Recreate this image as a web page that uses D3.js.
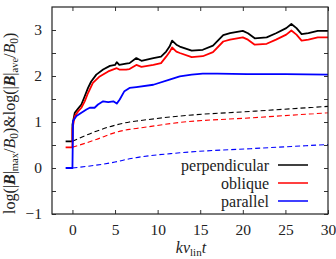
<!DOCTYPE html>
<html>
<head>
<meta charset="utf-8">
<script src="https://cdn.jsdelivr.net/npm/d3@7"></script>
<style>
  body { margin: 0; background: #fff; }
  svg { display: block; }
  text { font-family: "Liberation Serif", "Times New Roman", serif; fill: #222; }
</style>
</head>
<body>
<div id="chart"></div>
<script>
/* Reference values */
const perpT = [-0.8, 0, 0, 0.27, 0.66, 1.05, 1.44, 1.83, 2.2, 2.8, 3.6, 4.4, 5.0, 5.2, 5.5, 6.3, 6.7, 7.5, 8.1, 9.5, 10.4, 11.0, 11.4, 11.7, 12.2, 12.6, 14.0, 15.3, 16.5, 17.7, 18.5, 20.0, 20.6, 21.4, 22.8, 23.9, 25.1, 25.7, 26.3, 26.9, 27.7, 28.8, 30];
const perpV = [0.58, 0.58, 0.94, 1.2, 1.29, 1.38, 1.56, 1.74, 1.88, 2.03, 2.14, 2.22, 2.24, 2.30, 2.24, 2.27, 2.28, 2.39, 2.33, 2.39, 2.42, 2.53, 2.64, 2.77, 2.68, 2.64, 2.55, 2.57, 2.66, 2.89, 2.93, 2.98, 2.93, 2.82, 2.84, 2.93, 3.04, 3.13, 3.04, 2.91, 2.93, 2.98, 2.98];

const oblT = [-0.8, 0, 0, 0.27, 0.66, 1.05, 1.44, 1.83, 2.4, 3.2, 4.2, 5.2, 5.5, 6.3, 6.7, 7.5, 8.1, 9.5, 10.4, 11.0, 11.4, 11.7, 12.2, 12.6, 14.0, 15.3, 16.5, 17.7, 18.5, 20.0, 20.6, 21.4, 22.8, 23.9, 25.1, 25.7, 26.3, 26.9, 27.7, 28.8, 30];
const oblV = [0.45, 0.45, 0.85, 1.13, 1.23, 1.31, 1.45, 1.63, 1.85, 1.99, 2.10, 2.17, 2.14, 2.14, 2.15, 2.24, 2.20, 2.24, 2.28, 2.42, 2.52, 2.62, 2.53, 2.50, 2.41, 2.43, 2.52, 2.75, 2.79, 2.84, 2.79, 2.68, 2.70, 2.79, 2.90, 2.99, 2.90, 2.77, 2.79, 2.84, 2.84];

const parT = [-0.8, 0, 0.07, 0.47, 1.05, 1.64, 2.03, 2.6, 3.0, 3.6, 4.2, 4.8, 5.2, 5.55, 6.1, 6.7, 7.5, 9.5, 11.4, 12.6, 14.0, 15.3, 17, 20.5, 25, 30];
const parV = [0, 0, 1.02, 1.13, 1.2, 1.27, 1.31, 1.31, 1.38, 1.45, 1.43, 1.45, 1.40, 1.49, 1.67, 1.74, 1.76, 1.81, 1.92, 1.99, 2.03, 2.05, 2.05, 2.04, 2.04, 2.03];

// dashed curves (the other quantity of the label)
const perpDashT = [0, 2.8, 5, 6.7, 7.9, 12.6, 20.9, 30];
const perpDashV = [0.58, 0.80, 0.93, 1.0, 1.03, 1.13, 1.23, 1.34];
const oblDashT = [0, 2.8, 5, 6.7, 7.9, 12.6, 20.9, 30];
const oblDashV = [0.45, 0.62, 0.77, 0.84, 0.87, 0.99, 1.09, 1.2];
const parDashT = [0, 5, 6.7, 12.6, 20.9, 30];
const parDashV = [0, 0.13, 0.2, 0.33, 0.42, 0.51];

const legendNames = ["perpendicular", "oblique", "parallel"];
const xTicks = [0, 5, 10, 15, 20, 25, 30];
const yTicks = [-1, -0.5, 0, 0.5, 1, 1.5, 2, 2.5, 3];

/* Layout */
let width = 336;
let height = 259;
let margin = {top:7, bottom:45, right:8, left:52};
let pWidth = width - margin.left - margin.right;
let pHeight = height - margin.top - margin.bottom;
const colors = ["#000000", "#ff0000", "#0000ff"];

let svg = d3.select("#chart").append("svg")
            .attr("width", width)
            .attr("height", height);

let xScale = d3.scaleLinear().domain([-2.4, 30]).range([0, pWidth]);
let yScale = d3.scaleLinear().domain([-1, 3.5]).range([pHeight, 0]);

let plot = svg.append("g")
              .attr("transform", `translate(${margin.left}, ${margin.top})`);

function fmt(d) {
  return d < 0 ? "\u2212" + Math.abs(d) : String(d);
}

// axes with ticks pointing inward, labels only bottom and left
let axBottom = plot.append("g")
    .attr("transform", `translate(0, ${pHeight})`)
    .call(d3.axisBottom(xScale).tickValues(xTicks).tickSizeInner(-4).tickSizeOuter(0).tickPadding(10).tickFormat(fmt));
let axTop = plot.append("g")
    .call(d3.axisTop(xScale).tickValues(xTicks).tickSizeInner(-4).tickSizeOuter(0).tickFormat(""));
let axLeft = plot.append("g")
    .call(d3.axisLeft(yScale).tickValues(yTicks).tickSizeInner(-4).tickSizeOuter(0).tickPadding(10)
      .tickFormat(d => Number.isInteger(d) ? fmt(d) : ""));
let axRight = plot.append("g")
    .attr("transform", `translate(${pWidth}, 0)`)
    .call(d3.axisRight(yScale).tickValues(yTicks).tickSizeInner(-4).tickSizeOuter(0).tickFormat(""));

[axBottom, axTop, axLeft, axRight].forEach(g => {
  g.select(".domain").remove();
  g.selectAll(".tick line").attr("stroke", "#333");
  g.selectAll("text").attr("font-size", 15.5).attr("fill", "#222")
    .style("font-family", "'Liberation Serif', serif");
});

let line = d3.line()
             .x(d => xScale(d[0]))
             .y(d => yScale(d[1]));
let smooth = d3.line()
             .x(d => xScale(d[0]))
             .y(d => yScale(d[1]))
             .curve(d3.curveMonotoneX);

function zip(ts, vs) { return ts.map((t, i) => [t, vs[i]]); }

// dashed curves
[[perpDashT, perpDashV], [oblDashT, oblDashV], [parDashT, parDashV]].forEach((s, i) => {
  plot.append("path")
      .attr("d", smooth(zip(s[0], s[1])))
      .attr("fill", "none")
      .attr("stroke", colors[i])
      .attr("stroke-width", 1.1)
      .attr("stroke-dasharray", "5,3");
});

// solid curves
[[perpT, perpV], [oblT, oblV], [parT, parV]].forEach((s, i) => {
  plot.append("path")
      .attr("d", line(zip(s[0], s[1])))
      .attr("fill", "none")
      .attr("stroke", colors[i])
      .attr("stroke-width", 1.8)
      .attr("stroke-linejoin", "round");
});

// frame
plot.append("rect")
    .attr("width", pWidth)
    .attr("height", pHeight)
    .attr("fill", "none")
    .attr("stroke", "#222")
    .attr("stroke-width", 1.2);

// legend
let legend = plot.append("g")
    .attr("transform", `translate(${269 - margin.left}, ${165 - margin.top})`);
legendNames.forEach((name, i) => {
  legend.append("text")
      .attr("x", 0)
      .attr("y", i * 18)
      .attr("dy", "0.35em")
      .attr("text-anchor", "end")
      .attr("font-size", 16)
      .text(name);
  legend.append("line")
      .attr("x1", 9).attr("x2", 39)
      .attr("y1", i * 18).attr("y2", i * 18)
      .attr("stroke", colors[i])
      .attr("stroke-width", 1.5);
});

// x label
let xl = svg.append("text")
    .attr("x", 191)
    .attr("y", 253)
    .attr("text-anchor", "middle")
    .attr("font-size", 16);
xl.append("tspan").attr("font-style", "italic").text("kv");
xl.append("tspan").attr("font-size", 11).attr("dy", 3).text("lin");
xl.append("tspan").attr("font-style", "italic").attr("dy", -3).text("t");

// y label
let yl = svg.append("text")
    .attr("transform", "translate(15, 214) rotate(-90)")
    .attr("text-anchor", "start")
    .attr("font-size", 16);
function part(txt, opts) {
  let t = yl.append("tspan").text(txt);
  if (opts && opts.bold) t.attr("font-weight", "bold");
  if (opts && opts.italic) t.attr("font-style", "italic");
  if (opts && opts.size) t.attr("font-size", opts.size);
  if (opts && opts.dy) t.attr("dy", opts.dy);
  return t;
}
["max", "ave"].forEach((sub, k) => {
  part(k === 0 ? "log(|" : ")&log(|", {dy: k === 0 ? 0 : -3});
  part("B", {bold: true, italic: true});
  part("|");
  part(sub, {size: 10.5, dy: 3});
  part("/", {dy: -3});
  part("B", {italic: true});
  part("0", {size: 11.5, dy: 3});
});
part(")", {dy: -3});
</script>
</body>
</html>
